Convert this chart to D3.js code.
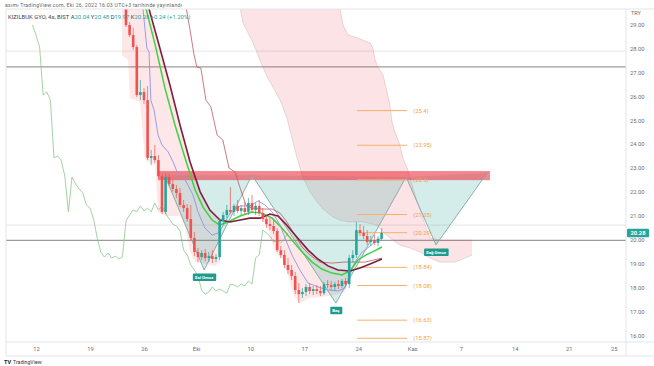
<!DOCTYPE html>
<html><head><meta charset="utf-8">
<script src="https://cdn.jsdelivr.net/npm/d3@7"></script>
<style>
html,body{margin:0;padding:0;background:#fff;}
svg{display:block;font-family:Roboto,"Liberation Sans",Arial,sans-serif;}
</style></head><body>
<svg id="c" width="654" height="366"></svg>
<script>
// ---------- DATA ----------
const firstBar = 25; // bar index of first visible candle (0 = 12 Sep, first 4h bar)
const open  = [29.70,28.98,28.56,28.06,26.05,26.18,25.84,23.42,23.50,23.33,22.66,21.16,22.62,22.33,22.12,21.95,21.45,21.32,20.86,20.07,19.48,19.27,19.44,19.23,19.31,19.19,19.27,20.78,21.03,21.24,21.16,21.41,21.20,21.32,21.16,21.53,21.24,21.41,21.11,20.86,20.65,20.57,20.36,19.56,19.36,18.94,18.73,18.48,17.89,17.72,17.81,18.02,17.85,17.93,17.85,17.76,18.14,18.10,18.02,18.14,18.06,18.27,18.14,19.23,19.36,20.40,20.28,20.15,19.90,19.98,19.86,20.04];
const high  = [29.86,29.11,28.86,28.15,26.68,26.35,26.43,23.75,23.96,23.54,22.75,22.79,22.75,22.50,22.29,22.16,21.66,21.49,21.45,20.32,19.65,19.56,19.61,19.48,19.56,19.40,20.90,21.16,21.45,22.20,21.49,21.66,21.45,21.57,21.74,21.87,21.53,21.66,21.32,21.03,20.90,20.82,20.49,19.73,19.56,19.23,18.94,18.64,18.18,17.97,18.14,18.18,18.06,18.10,18.06,18.23,18.31,18.27,18.23,18.31,18.35,18.39,19.36,19.56,20.74,20.65,20.57,20.40,20.15,20.19,20.15,20.48];
const low   = [28.90,28.48,27.94,25.97,25.84,25.68,23.33,23.12,23.21,22.58,21.07,21.07,22.24,22.00,21.74,21.36,21.16,20.74,19.98,19.31,19.06,19.15,19.10,19.06,19.02,19.06,19.15,20.65,20.90,21.07,20.99,21.11,21.03,21.07,21.03,21.16,21.03,20.99,20.74,20.49,20.40,20.23,19.48,19.23,18.81,18.56,18.31,17.72,17.35,17.56,17.64,17.72,17.68,17.72,17.64,17.68,17.97,17.89,17.85,17.93,17.97,18.02,17.97,19.06,19.23,20.15,20.03,19.77,19.73,19.77,19.73,19.97];
const close = [28.98,28.56,28.06,26.05,26.18,25.84,23.42,23.50,23.33,22.66,21.16,22.62,22.33,22.12,21.95,21.45,21.32,20.86,20.07,19.48,19.27,19.44,19.23,19.31,19.19,19.27,20.78,21.03,21.24,21.16,21.41,21.20,21.32,21.16,21.53,21.24,21.41,21.11,20.86,20.65,20.57,20.36,19.56,19.36,18.94,18.73,18.48,17.89,17.72,17.81,18.02,17.85,17.93,17.85,17.76,18.14,18.10,18.02,18.14,18.06,18.27,18.14,19.23,19.36,20.40,20.28,20.15,19.90,19.98,19.86,20.04,20.28];
const lagShift = 26;

const tickBars   = [0,15,30,44.5,59.5,74.5,89.5,104.5,118,133,148,160.5];
const tickLabels = ["12","19","26","Eki","10","17","24","Kas","7","14","21","25"];
const priceTicks = [16,17,18,19,20,21,22,23,24,25,26,27,28,29];
const lastPrice = 20.28;

// indicator lines: [barIndex, price]
const tenkan = [[29.7,29.70],[30.3,28.77],[30.8,28.02],[31.4,27.85],[31.9,25.84],[32.8,25.42],[33.9,24.38],[35,23.96],[36.7,23.67],[38.1,23.25],[39.2,22.83],[40.8,22.66],[42.2,22.29],[43.6,21.87],[45,21.16],[46.9,20.49],[48.9,20.19],[50.6,20.28],[51.9,20.57],[53.9,21.11],[56.7,21.41],[59.4,21.41],[61.7,21.62],[63.6,21.45],[65.6,21.16],[67.8,20.61],[69.4,19.98],[71.1,19.36],[73.3,18.73],[75.6,18.18],[78.3,18.02],[81.1,17.89],[83.9,17.85],[85.8,17.97],[87.2,18.52],[88.6,19.06],[90.6,19.48],[92.8,19.73],[94.4,19.94],[96.1,20.07]];
const kijun = [[41.7,29.70],[42.8,28.77],[43.9,27.73],[44.7,27.22],[45.8,27.18],[47.2,25.84],[48.6,25.55],[50.3,24.38],[51.9,24.17],[53.6,23.00],[55.3,22.83],[56.7,22.16],[58.3,21.45],[60,21.32],[62.8,21.28],[65.6,21.28],[67.8,21.11],[69.7,20.74],[71.9,20.19],[73.9,19.69],[76.1,19.36],[78.9,19.06],[82.2,19.02],[85.8,19.06],[91.4,19.06],[96.1,19.23]];
const emaFast = [[30.3,29.82],[33.1,28.15],[35.8,26.35],[38.6,24.80],[41.4,23.42],[44.2,22.08],[46.4,21.36],[48.9,20.82],[51.1,20.61],[53.3,20.74],[56.7,20.99],[60,21.16],[62.8,21.11],[65.6,20.90],[68.3,20.49],[71.1,19.98],[73.9,19.48],[76.7,19.06],[79.4,18.77],[82.2,18.60],[85,18.52],[87.2,18.69],[89.4,19.15],[91.7,19.36],[93.9,19.52],[96.1,19.69]];
const emaSlow = [[31.1,29.82],[34.4,28.02],[37.2,26.47],[40,24.80],[42.8,23.25],[45.6,22.00],[48.3,21.24],[51.1,20.82],[53.9,20.74],[56.7,20.82],[59.4,20.90],[62.2,20.90],[65,21.07],[67.2,20.99],[69.4,20.65],[72.2,20.15],[75.6,19.56],[78.3,19.19],[81.1,18.90],[83.9,18.73],[87.2,18.69],[90,18.81],[92.8,18.98],[96.1,19.19]];
// future cloud edges
const spanLower = [[55,30.40],[56.7,29.70],[57.5,29.07],[60.3,28.23],[62.2,27.52],[64.2,26.81],[65.8,26.39],[67.8,25.84],[69.7,25.09],[71.1,24.25],[72.5,23.42],[74.2,22.58],[76.1,22.00],[78.1,21.57],[79.7,21.28],[81.1,21.11],[82.5,20.95],[84.4,20.82],[86.7,20.74],[89.2,20.74],[90.6,20.74],[91.9,20.70],[93.6,20.65],[95,20.57],[96.4,20.32],[98.3,20.07],[101.1,19.77],[103.9,19.65],[106.7,19.48],[109.4,19.23],[112.2,19.06],[116.4,19.06],[119.2,19.23],[121.1,19.36]];
const spanUpper = [[81.7,30.66],[84.4,29.70],[85.3,28.98],[86.7,28.56],[88.6,28.48],[90.6,28.36],[92.8,28.23],[93.6,28.02],[94.2,27.52],[95,27.22],[96.4,26.89],[97.5,26.18],[98.3,25.63],[98.9,24.92],[99.7,24.50],[101.1,23.96],[101.9,23.42],[103.1,23.00],[103.9,22.58],[105.3,21.87],[106.7,21.24],[108.1,20.61],[109.4,20.07],[112.2,19.98],[121.1,19.98]];
// outer edges of the pink fills next to the candles
const bandEdgeA = [[23.9,27.73],[25.6,27.52],[26.1,25.93],[28.9,25.76],[30.3,23.33],[33.1,23.12],[33.9,21.16],[36.1,20.99],[40,20.99],[41.4,20.57],[42.8,19.48],[44.2,19.06],[49.7,18.90],[51.1,19.06],[51.7,20.40]];
const bandEdgeB = [[62.8,20.86],[64.4,20.49],[66.4,19.48],[68.3,19.23],[70,18.52],[71.7,17.64],[73.3,17.35],[76.1,17.56],[78.9,17.60],[81.7,17.64],[84.4,17.76],[86.1,17.85],[86.9,18.64],[87.8,18.81]];

const hLevelsGray  = [27.23, 19.97];
const hLevelsLight = [27.89, 20.61];

const zoneBars   = [33.9, 126.1];
const zonePrices = [22.49, 22.87];

const fibLevels = [25.4,23.95,22.5,21.05,20.29,18.84,18.08,16.63,15.87];
const fibLabels = ["(25.4)","(23.95)","(22.5)","(21.05)","(20.29)","(18.84)","(18.08)","(16.63)","(15.87)"];
const fibBars   = [89.2, 103.1];

const hsPoints = [[35.8,22.68],[46.7,18.73],[60,22.70],[83.3,17.34],[102.8,22.62],[111.1,19.78],[125.3,22.79]];
const hsLabels = ["Sol Omuz","Baş","Sağ Omuz"];

// ---------- SCALES ----------
const W = 654, H = 366;
const plot = {l:6, t:9, r:626, b:342};
const x = d3.scaleLinear().domain([0,1]).range([36,39.6]);
const y = d3.scaleLinear().domain([16,29]).range([335.2,24.6]);

const svg = d3.select("#c");
svg.append("rect").attr("width",W).attr("height",H).attr("fill","#fff");
svg.append("defs").append("clipPath").attr("id","clip")
  .append("rect").attr("x",plot.l).attr("y",plot.t).attr("width",plot.r-plot.l).attr("height",plot.b-plot.t);
const g = svg.append("g").attr("clip-path","url(#clip)");

const line = d3.line().x(d=>x(d[0])).y(d=>y(d[1]));
const poly = pts => "M" + pts.map(d=>x(d[0])+","+y(d[1])).join("L") + "Z";

// horizontal levels
g.selectAll(".hl").data(hLevelsLight).join("line")
  .attr("x1",plot.l).attr("x2",plot.r).attr("y1",d=>y(d)).attr("y2",d=>y(d))
  .attr("stroke","#e6e6e6").attr("stroke-width",1);
g.selectAll(".hg").data(hLevelsGray).join("line")
  .attr("x1",plot.l).attr("x2",plot.r).attr("y1",d=>y(d)).attr("y2",d=>y(d))
  .attr("stroke","#9b9b9b").attr("stroke-width",1.3);

// cloud
const cloudPts = spanLower.concat(spanUpper.slice().reverse());
g.append("path").attr("d",poly(cloudPts)).attr("fill","rgba(236,70,80,0.15)");

// pink fills near candles
const bandA = [[23.9,30.6],[31.1,30.6]].concat(emaSlow.filter(d=>d[0]<=51.2)).concat(bandEdgeA.slice().reverse());
g.append("path").attr("d",poly(bandA)).attr("fill","rgba(236,70,80,0.13)");
const bandB = emaSlow.filter(d=>d[0]>=62&&d[0]<=88).concat(bandEdgeB.slice().reverse());
g.append("path").attr("d",poly(bandB)).attr("fill","rgba(236,70,80,0.13)");

// head & shoulders fills
const tri = [[0,1,2],[2,3,4],[4,5,6]];
g.selectAll(".tri").data(tri).join("path")
  .attr("d",t=>poly(t.map(k=>hsPoints[k])))
  .attr("fill","rgba(38,166,154,0.2)");

// cloud edges
g.append("path").attr("d",line(spanUpper)).attr("fill","none").attr("stroke","rgba(200,120,120,0.35)").attr("stroke-width",0.8);
g.append("path").attr("d",line(spanLower)).attr("fill","none").attr("stroke","rgba(150,150,150,0.35)").attr("stroke-width",0.8);

// resistance zone
g.append("rect").attr("x",x(zoneBars[0])).attr("width",x(zoneBars[1])-x(zoneBars[0]))
  .attr("y",y(zonePrices[1])).attr("height",y(zonePrices[0])-y(zonePrices[1]))
  .attr("fill","rgba(235,60,75,0.62)");

// H&S lines
g.append("path").attr("d",line(hsPoints)).attr("fill","none").attr("stroke","#7fa8a4").attr("stroke-width",0.9);

// fib levels
g.selectAll(".fib").data(fibLevels).join("line")
  .attr("x1",x(fibBars[0])).attr("x2",x(fibBars[1])).attr("y1",d=>y(d)).attr("y2",d=>y(d))
  .attr("stroke","#f6b06a").attr("stroke-width",1);
g.selectAll(".fibt").data(fibLevels).join("text")
  .attr("x",x(fibBars[1])+6).attr("y",d=>y(d)+2).text((d,i)=>fibLabels[i])
  .attr("font-size",5.8).attr("fill","#f0a04b");

// indicator lines
const bars = open.map((o,k)=>({i:firstBar+k,o,h:high[k],l:low[k],c:close[k]}));
const lagging = bars.map(b=>[b.i-lagShift,b.c]);
g.append("path").attr("d",line(lagging)).attr("fill","none").attr("stroke","#8cc78a").attr("stroke-width",0.8);
g.append("path").attr("d",line(kijun)).attr("fill","none").attr("stroke","#c0595c").attr("stroke-width",0.8);
g.append("path").attr("d",line(tenkan)).attr("fill","none").attr("stroke","#8f95e6").attr("stroke-width",0.9);
g.append("path").attr("d",line(emaFast)).attr("fill","none").attr("stroke","#3fd13f").attr("stroke-width",1.5);
g.append("path").attr("d",line(emaSlow)).attr("fill","none").attr("stroke","#7e1f40").attr("stroke-width",1.6);

// candles
const up = "#26a69a", dn = "#ef5350";
g.selectAll(".wick").data(bars).join("line")
  .attr("x1",d=>x(d.i)).attr("x2",d=>x(d.i)).attr("y1",d=>y(d.h)).attr("y2",d=>y(d.l))
  .attr("stroke",d=>d.c>=d.o?up:dn).attr("stroke-width",0.7);
g.selectAll(".body").data(bars).join("rect")
  .attr("x",d=>x(d.i)-1.3).attr("width",2.6)
  .attr("y",d=>y(Math.max(d.o,d.c))).attr("height",d=>Math.max(0.8,Math.abs(y(d.o)-y(d.c))))
  .attr("fill",d=>d.c>=d.o?up:dn);

// H&S labels
const labPts = [hsPoints[1],hsPoints[3],hsPoints[5]];
const labG = g.selectAll(".lab").data(labPts).join("g")
  .attr("transform",d=>`translate(${x(d[0])},${y(d[1])+7})`);
labG.append("text").attr("class","lt").attr("text-anchor","middle").attr("y",1.8)
  .attr("font-size",4.3).attr("font-weight","bold").attr("fill","#fff").text((d,i)=>hsLabels[i]);
labG.each(function(){
  const t = d3.select(this).select("text"); const bb = t.node().getBBox();
  d3.select(this).insert("rect","text").attr("x",bb.x-2).attr("y",bb.y-1.2)
    .attr("width",bb.width+4).attr("height",bb.height+2.4).attr("rx",1).attr("fill","#1f9a8c");
});

// ---------- AXES / FRAME ----------
const frame = svg.append("g").attr("stroke","#e3e5ea").attr("stroke-width",1);
frame.append("line").attr("x1",plot.l).attr("x2",W).attr("y1",plot.t).attr("y2",plot.t);
frame.append("line").attr("x1",plot.l).attr("x2",plot.l).attr("y1",plot.t).attr("y2",356);
frame.append("line").attr("x1",plot.r).attr("x2",plot.r).attr("y1",plot.t).attr("y2",356);
frame.append("line").attr("x1",plot.l).attr("x2",W).attr("y1",plot.b).attr("y2",plot.b);
frame.append("line").attr("x1",plot.l).attr("x2",W).attr("y1",356).attr("y2",356);

const xa = svg.append("g").attr("transform",`translate(0,${plot.b})`)
  .call(d3.axisBottom(x).tickValues(tickBars).tickFormat((d,i)=>tickLabels[i]).tickSize(0).tickPadding(5));
xa.select(".domain").remove();
xa.selectAll("text").attr("font-size",5.8).attr("fill","#6a6d78").attr("font-family","Roboto,Arial,sans-serif");

const ya = svg.append("g").attr("transform",`translate(${plot.r},0)`)
  .call(d3.axisRight(y).tickValues(priceTicks).tickFormat(d3.format(".2f")).tickSize(0).tickPadding(4));
ya.select(".domain").remove();
ya.selectAll("text").attr("font-size",5.8).attr("fill","#6a6d78").attr("font-family","Roboto,Arial,sans-serif");

svg.append("text").attr("x",plot.r+5).attr("y",15).attr("font-size",5.5).attr("fill","#6a6d78").text("TRY");

// last price tag
svg.append("rect").attr("x",plot.r+1).attr("y",y(lastPrice)-4.2).attr("width",22).attr("height",8.4).attr("rx",1).attr("fill","#26a69a");
svg.append("text").attr("x",plot.r+12).attr("y",y(lastPrice)+2.1).attr("text-anchor","middle")
  .attr("font-size",5.8).attr("font-weight","bold").attr("fill","#fff").text(lastPrice.toFixed(2));

// header texts
svg.append("text").attr("x",5).attr("y",6.5).attr("font-size",5.2).attr("fill","#666")
  .attr("textLength",177).attr("lengthAdjust","spacing")
  .text("asımı TradingView.com, Eki 26, 2022 16:03 UTC+3 tarihinde yayınlandı");
const st = svg.append("text").attr("x",8).attr("y",18.5).attr("font-size",5.9);
st.append("tspan").attr("fill","#444").text("KIZILBUK GYO, 4s, BIST  ");
[["A","20.04"],["Y","20.48"],["D","19.97"],["K","20.28"]].forEach(p=>{
  st.append("tspan").attr("fill","#444").text(p[0]);
  st.append("tspan").attr("fill","#26a69a").text(p[1]+" ");
});
st.append("tspan").attr("fill","#26a69a").text("+0.24 (+1.20%)");

// bottom logo
svg.append("text").attr("x",4).attr("y",363.5).attr("font-size",5.6).attr("font-weight","bold").attr("fill","#222").text("TV");
svg.append("text").attr("x",13).attr("y",363.5).attr("font-size",5.2).attr("fill","#333").text("TradingView");
</script></body></html>
